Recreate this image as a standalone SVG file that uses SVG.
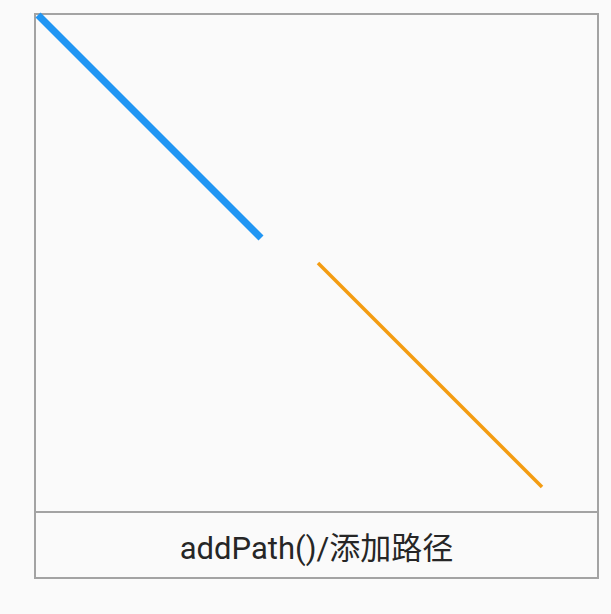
<svg xmlns="http://www.w3.org/2000/svg" width="611" height="614" viewBox="0 0 611 614">
<style>
.frame{fill:none;stroke:#a3a3a3;stroke-width:2}
.lbl{font-family:Roboto,"Noto Sans CJK SC",sans-serif;font-size:31px;fill:#262626;text-anchor:middle}
</style>
<rect x="0" y="0" width="611" height="614" fill="#fafafa"/>
<g id="canvas">
<rect class="frame" x="35" y="14" width="563" height="564"/>
<line class="frame" x1="35" y1="512" x2="598" y2="512"/>
</g>
<g id="paths">
<line x1="38" y1="15" x2="261" y2="238" stroke="#2196f3" stroke-width="7"/>
<line x1="318" y1="263" x2="542" y2="487" stroke="#f39c12" stroke-width="3.5"/>
</g>
<g id="label">
<text class="lbl" x="316.5" y="559">addPath()/添加路径</text>
</g>
</svg>
